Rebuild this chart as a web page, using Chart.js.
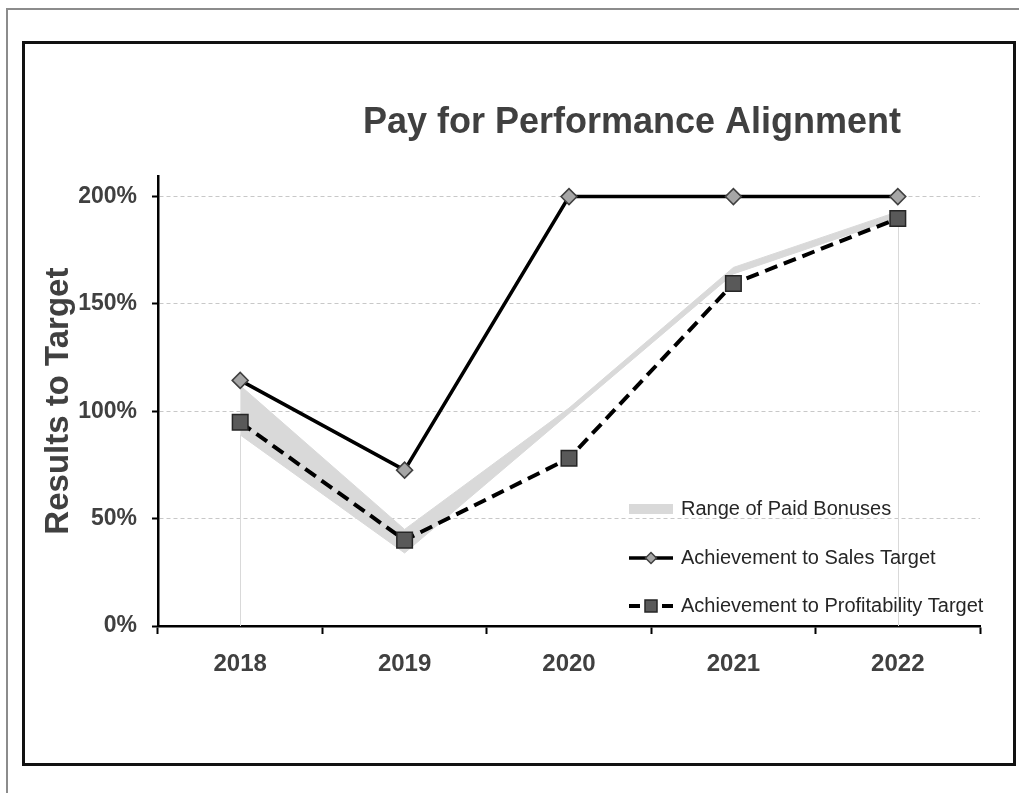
<!DOCTYPE html>
<html>
<head>
<meta charset="utf-8">
<script src="https://cdn.jsdelivr.net/npm/chart.js@4.4.0/dist/chart.umd.min.js"></script>
<style>
  html, body { margin: 0; padding: 0; background: #fff; overflow: hidden; }
  #frame { position: absolute; left: 6px; top: 8px; width: 1100px; height: 900px; border-left: 2px solid #8c8c8c; border-top: 2px solid #8c8c8c; }
  #box { position: absolute; left: 22px; top: 41px; width: 988px; height: 719px; border: 3px solid #111; }
  #chart { position: absolute; left: 0; top: 0; }
</style>
</head>
<body>
<div id="frame"></div>
<div id="box"></div>
<canvas id="chart" width="1019" height="793"></canvas>
<script>
var years = ['2018', '2019', '2020', '2021', '2022'];
var salesAchievement = [114.4, 72.6, 200, 200, 200];
var profitAchievement = [94.9, 40, 78.1, 159.5, 189.8];
var bonusLow = [89, 34, 99, 164, 190];
var bonusHigh = [112, 45, 101.5, 167, 193];
var yTickValues = [0, 50, 100, 150, 200];

Chart.defaults.font.family = "'Liberation Sans', Arial, sans-serif";
Chart.defaults.color = '#404040';

// lineas verticales claras en el primer y ultimo año del rango
var dropLines = {
    id: 'dropLines',
    beforeDatasetsDraw: function (chart) {
        var meta = chart.getDatasetMeta(0);
        var y0 = chart.scales.y.getPixelForValue(0);
        var ctx = chart.ctx;
        ctx.save();
        ctx.strokeStyle = '#d9d9d9';
        ctx.lineWidth = 1;
        [meta.data[0], meta.data[meta.data.length - 1]].forEach(function (p) {
            var x = Math.round(p.x) + 0.5;
            ctx.beginPath();
            ctx.moveTo(x, p.y);
            ctx.lineTo(x, y0);
            ctx.stroke();
        });
        ctx.restore();
    }
};

// el titulo va desplazado a la derecha como en el original
var shiftTitle = {
    id: 'shiftTitle',
    afterLayout: function (chart) {
        var t = chart.titleBlock;
        if (t) {
            t.left = chart.chartArea.left + 126;
            t.right = chart.chartArea.right;
        }
    }
};

// leyenda dentro del area del grafico, abajo a la derecha
var insideLegend = {
    id: 'insideLegend',
    afterDatasetsDraw: function (chart) {
        var area = chart.chartArea, ctx = chart.ctx;
        var x0 = area.right - 351, x1 = x0 + 44;
        var rows = [area.bottom - 117, area.bottom - 68, area.bottom - 20];
        var items = chart.data.datasets.filter(function (d) { return d.label; });
        ctx.save();
        items.forEach(function (ds, i) {
            var y = rows[i];
            if (ds.fill) {
                ctx.fillStyle = ds.backgroundColor;
                ctx.fillRect(x0, y - 5, x1 - x0, 10);
            } else {
                ctx.strokeStyle = ds.borderColor;
                ctx.lineWidth = ds.borderWidth;
                ctx.setLineDash(ds.borderDash ? [11, 22] : []);
                ctx.beginPath();
                ctx.moveTo(x0, y);
                ctx.lineTo(x1, y);
                ctx.stroke();
                ctx.setLineDash([]);
                ctx.fillStyle = ds.pointBackgroundColor;
                ctx.strokeStyle = ds.pointBorderColor;
                ctx.lineWidth = 1.5;
                Chart.helpers.drawPoint(ctx, {
                    pointStyle: ds.pointStyle,
                    radius: ds.pointStyle === 'rect' ? 8.5 : 5.5,
                    rotation: 0,
                    borderWidth: 1.5
                }, (x0 + x1) / 2, y);
            }
            ctx.fillStyle = '#262626';
            ctx.font = "20px 'Liberation Sans', Arial, sans-serif";
            ctx.textBaseline = 'middle';
            ctx.textAlign = 'left';
            ctx.fillText(ds.label, x1 + 8, y);
        });
        ctx.restore();
    }
};

new Chart(document.getElementById('chart'), {
    type: 'line',
    data: {
        labels: years,
        datasets: [{
            label: '',
            data: bonusLow,
            borderColor: '#d9d9d9',
            borderWidth: 1,
            pointRadius: 0,
            fill: false,
            order: 3
        }, {
            label: 'Range of Paid Bonuses',
            data: bonusHigh,
            borderColor: '#d9d9d9',
            borderWidth: 1,
            backgroundColor: '#d9d9d9',
            pointRadius: 0,
            fill: '-1',
            order: 3
        }, {
            label: 'Achievement to Sales Target',
            data: salesAchievement,
            borderColor: '#000',
            borderWidth: 3.5,
            pointStyle: 'rectRot',
            pointRadius: 8,
            pointBackgroundColor: '#a6a6a6',
            pointBorderColor: '#404040',
            pointBorderWidth: 1.5,
            fill: false,
            order: 1
        }, {
            label: 'Achievement to Profitability Target',
            data: profitAchievement,
            borderColor: '#000',
            borderWidth: 4,
            borderDash: [13, 7],
            pointStyle: 'rect',
            pointRadius: 11,
            pointBackgroundColor: '#595959',
            pointBorderColor: '#262626',
            pointBorderWidth: 1.5,
            fill: false,
            order: 0
        }]
    },
    options: {
        responsive: false,
        animation: false,
        events: [],
        layout: { padding: { left: 35, right: 39, top: 60, bottom: 40 } },
        elements: { line: { tension: 0 } },
        plugins: {
            legend: { display: false },
            tooltip: { enabled: false },
            title: {
                display: true,
                text: 'Pay for Performance Alignment',
                color: '#404040',
                font: { size: 36, weight: 'bold' },
                padding: { top: 41, bottom: 32 }
            }
        },
        scales: {
            x: {
                offset: true,
                grid: { drawOnChartArea: false, drawTicks: true, tickLength: 8, tickWidth: 2, tickColor: '#000', offset: true },
                border: { color: '#000', width: 2.5 },
                ticks: { font: { size: 24, weight: 'bold' }, color: '#404040', padding: 16, maxRotation: 0 },
                afterFit: function (s) { s.height = 127; }
            },
            y: {
                min: 0,
                max: 209.5,
                ticks: {
                    font: { size: 23, weight: 'bold' },
                    color: '#404040',
                    padding: 15,
                    callback: function (v) { return v + '%'; }
                },
                afterBuildTicks: function (s) {
                    s.ticks = yTickValues.map(function (v) { return { value: v }; });
                },
                grid: { color: '#c8c8c8', lineWidth: 1, tickLength: 6, tickWidth: 2, tickColor: '#000', tickBorderDash: [] },
                border: { color: '#000', width: 2.5, dash: [4, 3] },
                title: {
                    display: true,
                    text: 'Results to Target',
                    font: { size: 33, weight: 'bold' },
                    color: '#404040',
                    padding: { top: 4, bottom: 4 }
                },
                afterFit: function (s) { s.width = 123; }
            }
        }
    },
    plugins: [dropLines, shiftTitle, insideLegend]
});
</script>
</body>
</html>
